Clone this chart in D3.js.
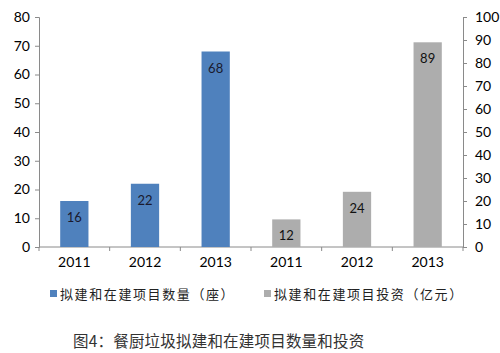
<!DOCTYPE html>
<html>
<head>
<meta charset="utf-8">
<script src="https://cdn.jsdelivr.net/npm/d3@7"></script>
<style>
  body { margin: 0; background: #fff; }
  svg text { font-family: Lato, "Open Sans", sans-serif; }
</style>
</head>
<body>
<div id="chart"></div>
<script>
// Data
const categories = ["2011", "2012", "2013", "2011 ", "2012 ", "2013 "];
const countYears = ["2011", "2012", "2013"];
const countValues = [16, 22, 68];
const investYears = ["2011 ", "2012 ", "2013 "];
const investValues = [12, 24, 89];
const leftTicks = [0, 10, 20, 30, 40, 50, 60, 70, 80];
const rightTicks = [0, 10, 20, 30, 40, 50, 60, 70, 80, 90, 100];
const legendLabels = ["拟建和在建项目数量（座）", "拟建和在建项目投资（亿元）"];
const caption = "图4：餐厨垃圾拟建和在建项目数量和投资";

const width = 500, height = 353;
const plotLeft = 39, plotRight = 463, plotTop = 17, plotBottom = 247;
const blue = "#4f81bd", gray = "#adadad", axisColor = "#8a8a8a";

const svg = d3.select("#chart").append("svg")
    .attr("width", width)
    .attr("height", height);

const x = d3.scaleBand().domain(categories).range([plotLeft, plotRight]).paddingInner(0).paddingOuter(0);
const yL = d3.scaleLinear().domain([0, 80]).range([plotBottom, plotTop]);
const yR = d3.scaleLinear().domain([0, 100]).range([plotBottom, plotTop]);
const barW = x.bandwidth() * 0.4;

// Axes
const axL = svg.append("g")
    .attr("transform", `translate(${plotLeft},0)`)
    .call(d3.axisLeft(yL).tickValues(leftTicks).tickSize(4).tickPadding(5));
const axR = svg.append("g")
    .attr("transform", `translate(${plotRight},0)`)
    .call(d3.axisRight(yR).tickValues(rightTicks).tickSize(4).tickPadding(8));
const axB = svg.append("g")
    .attr("transform", `translate(0,${plotBottom})`)
    .call(d3.axisBottom(x).tickSize(0).tickPadding(10));

// bottom tick marks at category boundaries
const bounds = categories.map(c => x(c)).concat([plotRight]);
svg.selectAll(".btick")
    .data(bounds)
    .enter().append("line")
    .attr("x1", d => d).attr("x2", d => d)
    .attr("y1", plotBottom).attr("y2", plotBottom + 4)
    .attr("stroke", axisColor);

[axL, axR, axB].forEach(g => {
    g.selectAll("path, line").attr("stroke", axisColor);
    g.selectAll("text").attr("fill", "#000").style("font-size", "14px");
});
axB.selectAll("path").attr("d", `M${plotLeft},0H${plotRight}`);

// Bars
svg.selectAll(".bar-count")
    .data(countValues)
    .enter().append("rect")
    .attr("x", (d, i) => x(countYears[i]) + (x.bandwidth() - barW) / 2)
    .attr("y", d => yL(d))
    .attr("width", barW)
    .attr("height", d => plotBottom - yL(d))
    .attr("fill", blue);

svg.selectAll(".bar-invest")
    .data(investValues)
    .enter().append("rect")
    .attr("x", (d, i) => x(investYears[i]) + (x.bandwidth() - barW) / 2)
    .attr("y", d => yR(d))
    .attr("width", barW)
    .attr("height", d => plotBottom - yR(d))
    .attr("fill", gray);

// Value labels
svg.selectAll(".lab-count")
    .data(countValues)
    .enter().append("text")
    .attr("x", (d, i) => x(countYears[i]) + x.bandwidth() / 2)
    .attr("y", d => yL(d) + 21)
    .attr("text-anchor", "middle")
    .style("font-size", "13px")
    .attr("fill", "#1a1a2e")
    .text(d => d);

svg.selectAll(".lab-invest")
    .data(investValues)
    .enter().append("text")
    .attr("x", (d, i) => x(investYears[i]) + x.bandwidth() / 2)
    .attr("y", d => yR(d) + 21)
    .attr("text-anchor", "middle")
    .style("font-size", "13px")
    .attr("fill", "#111")
    .text(d => d);

// Legend
const legendX = [50, 264];
const legendColors = [blue, gray];
legendLabels.forEach((t, i) => {
    svg.append("rect")
        .attr("x", legendX[i]).attr("y", 290)
        .attr("width", 7).attr("height", 7)
        .attr("fill", legendColors[i]);
    svg.append("text")
        .attr("x", legendX[i] + 10).attr("y", 299)
        .style("font-family", "'Noto Sans CJK SC', sans-serif")
        .style("font-size", "13px")
        .style("letter-spacing", "1.6px")
        .attr("fill", "#222")
        .text(t);
});

// Caption
svg.append("text")
    .attr("x", 73).attr("y", 347)
    .style("font-family", "'Noto Sans CJK SC', sans-serif")
    .style("font-size", "15.5px")
    .style("letter-spacing", "0.2px")
    .attr("fill", "#333")
    .text(caption);
</script>
</body>
</html>
